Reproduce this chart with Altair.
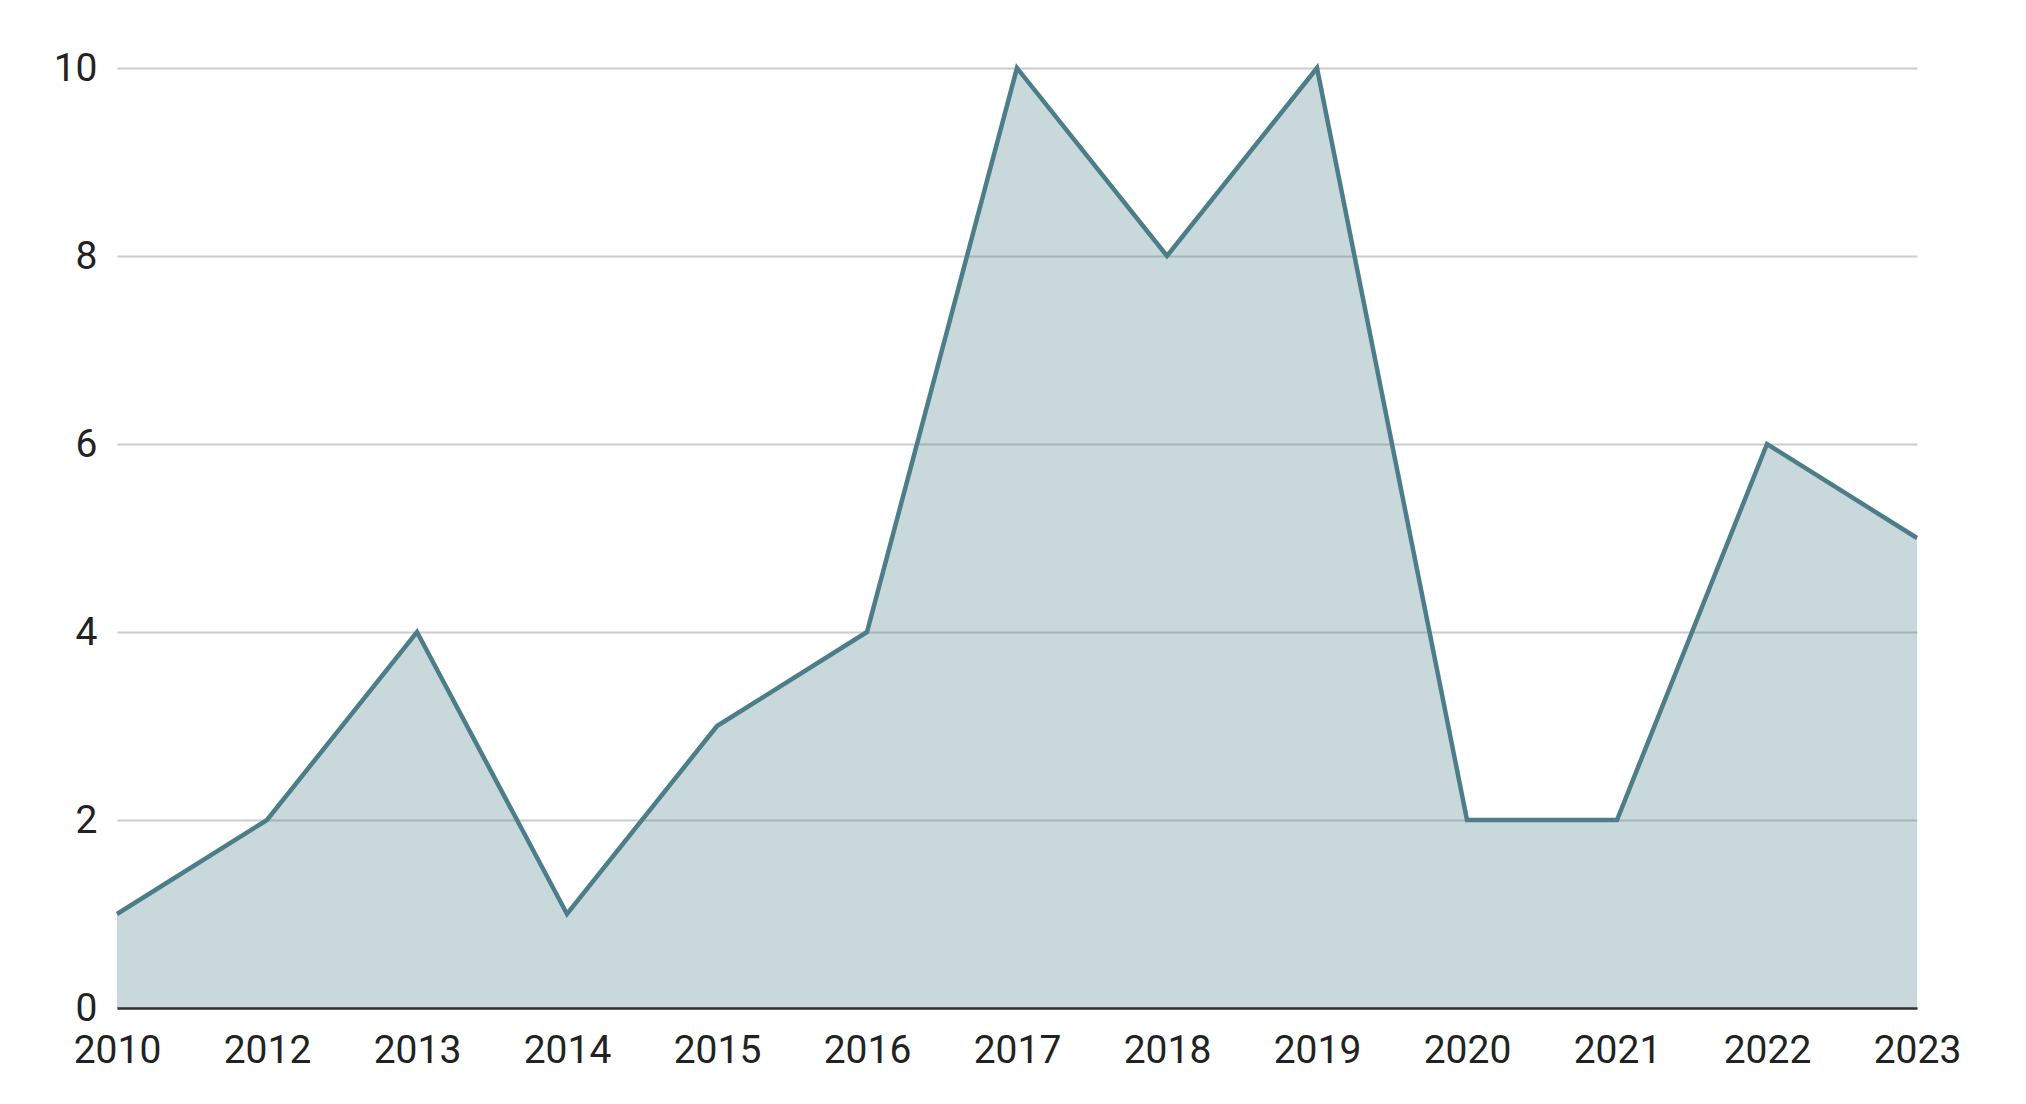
import altair as alt
import pandas as pd

years = ["2010", "2012", "2013", "2014", "2015", "2016", "2017",
         "2018", "2019", "2020", "2021", "2022", "2023"]
values = [1, 2, 4, 1, 3, 4, 10, 8, 10, 2, 2, 6, 5]

df = pd.DataFrame({"year": years, "value": values})

LINE = "#4d7d88"
FONT = "Roboto"

x = alt.X(
    "year:O",
    sort=years,
    scale=alt.Scale(type="point", padding=0),
    axis=alt.Axis(
        title=None,
        labelAngle=0,
        labelFont=FONT,
        labelFontSize=39,
        labelColor="#222222",
        labelPadding=23,
        ticks=False,
        domain=True,
        domainColor="#333333",
        domainWidth=2.5,
        grid=False,
        zindex=1,
        labelOverlap=False,
    ),
)
y = alt.Y(
    "value:Q",
    scale=alt.Scale(domain=[0, 10], nice=False),
    axis=alt.Axis(
        title=None,
        values=[0, 2, 4, 6, 8, 10],
        labelFont=FONT,
        labelFontSize=39,
        labelColor="#222222",
        labelPadding=20,
        ticks=False,
        domain=False,
        grid=True,
        gridColor="#cccccc",
        gridWidth=2,
    ),
)

area = alt.Chart(df).mark_area(color=LINE, fillOpacity=0.3, opacity=1).encode(x=x, y=y)
line = alt.Chart(df).mark_line(color=LINE, strokeWidth=4.5).encode(x=x, y=y)

chart = (
    alt.layer(area, line)
    .properties(
        width=1800,
        height=940,
        autosize=alt.AutoSizeParams(type="none"),
        padding={"left": 109, "top": 60, "right": 90, "bottom": 80},
    )
    .configure_view(stroke=None)
)

chart.save("out.html", embed_options={"renderer": "svg", "actions": False})
